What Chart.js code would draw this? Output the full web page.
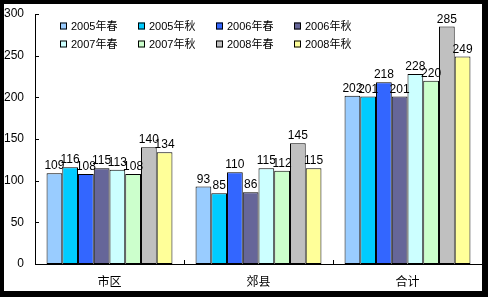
<!DOCTYPE html>
<html>
<head>
<meta charset="utf-8">
<script src="https://cdn.jsdelivr.net/npm/chart.js@4.4.1/dist/chart.umd.min.js"></script>
<style>
  html, body { margin: 0; padding: 0; background: #000; }
  #wrap { position: absolute; left: 4px; top: 4px; width: 478px; height: 287px; background: #fff; }
</style>
</head>
<body>
<div id="wrap"><canvas id="chart" width="478" height="287"></canvas></div>
<script>
// data
const categories = ['市区', '郊县', '合计'];
const seriesNames = ['2005年春', '2005年秋', '2006年春', '2006年秋', '2007年春', '2007年秋', '2008年春', '2008年秋'];
const spring2005 = [109, 93, 202];
const autumn2005 = [116, 85, 201];
const spring2006 = [108, 110, 218];
const autumn2006 = [115, 86, 201];
const spring2007 = [113, 115, 228];
const autumn2007 = [108, 112, 220];
const spring2008 = [140, 145, 285];
const autumn2008 = [134, 115, 249];
const yTicks = [0, 50, 100, 150, 200, 250, 300];

const seriesValues = [spring2005, autumn2005, spring2006, autumn2006, spring2007, autumn2007, spring2008, autumn2008];
const colors = ['#99ccff', '#00ccff', '#3366ff', '#666699', '#ccffff', '#ccffcc', '#c0c0c0', '#ffff99'];

const FONT = '"Liberation Sans", Arial, "Noto Sans CJK SC", sans-serif';
Chart.defaults.font.family = FONT;
Chart.defaults.color = '#000';

// excel-like legend: fixed grid, 4 columns x 2 rows
const gridLegend = {
  id: 'gridLegend',
  afterDraw(chart) {
    const ctx = chart.ctx;
    const colX = [56, 134, 212, 290];
    const rowY = [22, 40];
    ctx.save();
    ctx.font = '11px ' + FONT;
    ctx.textBaseline = 'middle';
    ctx.textAlign = 'left';
    chart.data.datasets.forEach((ds, i) => {
      const x = colX[i % 4], y = rowY[Math.floor(i / 4)];
      ctx.fillStyle = ds.backgroundColor;
      ctx.fillRect(x, y - 3.5, 7, 7);
      ctx.strokeStyle = '#000';
      ctx.lineWidth = 1;
      ctx.strokeRect(x + 0.5, y - 3, 6, 6);
      ctx.fillStyle = '#000';
      ctx.fillText(ds.label, x + 11, y + 0.5);
    });
    ctx.restore();
  }
};

// value labels above bars + inward tick marks
const extras = {
  id: 'extras',
  afterDatasetsDraw(chart) {
    const ctx = chart.ctx;
    ctx.save();
    ctx.font = '12px ' + FONT;
    ctx.fillStyle = '#000';
    ctx.textAlign = 'center';
    ctx.textBaseline = 'alphabetic';
    chart.data.datasets.forEach((ds, i) => {
      chart.getDatasetMeta(i).data.forEach((bar, j) => {
        ctx.fillText(String(ds.data[j]), bar.x, bar.y - 4);
      });
    });
    const ys = chart.scales.y, xs = chart.scales.x;
    const left = chart.chartArea.left, bottom = chart.chartArea.bottom;
    ctx.strokeStyle = '#000';
    ctx.lineWidth = 1;
    ctx.beginPath();
    yTicks.forEach(v => {
      const py = Math.round(ys.getPixelForValue(v)) + 0.5;
      ctx.moveTo(left, py);
      ctx.lineTo(left + 4, py);
    });
    const w = (xs.right - xs.left) / categories.length;
    for (let k = 1; k <= categories.length; k++) {
      const px = Math.round(xs.left + k * w) + 0.5;
      ctx.moveTo(px, bottom);
      ctx.lineTo(px, bottom - 4);
    }
    ctx.stroke();
    ctx.restore();
  }
};

new Chart(document.getElementById('chart'), {
  type: 'bar',
  data: {
    labels: categories,
    datasets: seriesNames.map((name, i) => ({
      label: name,
      data: seriesValues[i],
      backgroundColor: colors[i],
      borderColor: '#000',
      borderWidth: 1,
      borderSkipped: false,
      categoryPercentage: 0.845,
      barPercentage: 1
    }))
  },
  options: {
    responsive: false,
    animation: false,
    devicePixelRatio: 1,
    layout: { padding: { top: 10, right: 0, left: 0, bottom: 0 } },
    plugins: { legend: { display: false }, tooltip: { enabled: false } },
    scales: {
      x: {
        grid: { display: false, drawTicks: false },
        border: { color: '#000', width: 1 },
        ticks: { font: { size: 12 }, padding: 11, color: '#000' },
        afterFit: s => { s.height = 27; s.paddingLeft = 0; s.paddingRight = 0; }
      },
      y: {
        min: 0,
        max: 300,
        grid: { display: false, drawTicks: false },
        border: { color: '#000', width: 1 },
        ticks: { stepSize: 50, font: { size: 12 }, padding: 11, color: '#000' },
        afterFit: s => { s.width = 31; s.paddingTop = 0; s.paddingBottom = 0; }
      }
    }
  },
  plugins: [gridLegend, extras]
});
</script>
</body>
</html>
